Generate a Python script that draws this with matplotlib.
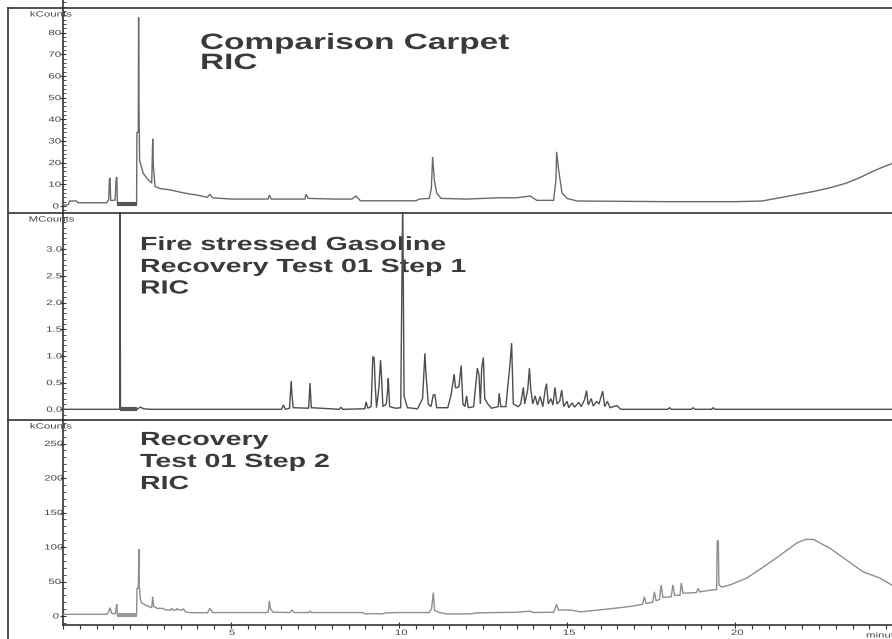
import matplotlib
matplotlib.use("Agg")
import matplotlib.pyplot as plt
from matplotlib.lines import Line2D
from matplotlib.patheffects import AbstractPathEffect
from matplotlib.transforms import Affine2D
from matplotlib.ticker import MultipleLocator

# ---------------- data ----------------
time_limits = [0.0, 24.67]

carpet_time = [0.0, 0.15, 0.2, 0.4, 0.45, 1.3, 1.36, 1.38, 1.40, 1.42, 1.55, 1.58, 1.60, 1.62,
               2.19, 2.20, 2.24, 2.25, 2.26, 2.28, 2.39, 2.54, 2.64, 2.67, 2.69, 2.74, 2.9, 3.2,
               3.6, 4.0, 4.3, 4.37, 4.45, 5.0, 6.1, 6.14, 6.2, 7.2, 7.23, 7.3, 8.1, 8.6, 8.72,
               8.85, 10.5, 10.6, 10.9, 10.96, 11.0, 11.05, 11.12, 11.25, 12.0, 13.0, 13.5, 13.9,
               14.1, 14.6, 14.67, 14.69, 14.75, 14.85, 15.0, 15.3, 18.0, 20.0, 20.8, 21.5, 22.3,
               22.8, 23.3, 23.7, 24.1, 24.4, 24.66]
carpet_kcounts = [0.5, 0.5, 2.3, 2.3, 1.5, 1.5, 3.0, 12.0, 13.0, 2.5, 2.7, 12.5, 13.4, 1.0,
                  1.0, 34.0, 34.0, 87.0, 47.5, 21.0, 15.0, 12.0, 10.6, 31.0, 18.0, 9.0, 8.0, 7.4,
                  6.0, 5.0, 4.0, 5.4, 3.8, 3.2, 3.2, 5.0, 3.2, 3.2, 5.4, 3.5, 3.2, 3.2, 4.6,
                  2.4, 2.4, 3.2, 3.5, 8.0, 22.6, 12.0, 6.0, 3.5, 3.2, 3.8, 3.8, 4.6,
                  2.6, 2.6, 12.0, 25.0, 16.6, 6.0, 3.5, 2.3, 2.0, 2.0, 2.3, 4.3, 6.6,
                  8.3, 10.5, 13.0, 16.0, 18.0, 19.5]

gasoline_time = [0.0, 1.69, 1.70, 1.71, 2.2, 2.3, 2.4, 2.6, 6.50, 6.56, 6.62, 6.74, 6.79, 6.81,
                 6.85, 7.31, 7.35, 7.39, 8.22, 8.27, 8.32, 8.98, 9.02, 9.07, 9.17, 9.22, 9.26,
                 9.29, 9.33, 9.40, 9.45, 9.48, 9.52, 9.62, 9.66, 9.68, 9.72, 9.9, 10.05, 10.11,
                 10.15, 10.25, 10.55, 10.70, 10.77, 10.80, 10.87, 10.95, 11.02, 11.07, 11.12,
                 11.45, 11.55, 11.64, 11.68, 11.78, 11.85, 11.9, 11.96, 12.01, 12.06, 12.22,
                 12.29, 12.33, 12.38, 12.42, 12.46, 12.51, 12.55, 12.64, 12.75, 12.95, 12.98,
                 13.03, 13.18, 13.25, 13.30, 13.35, 13.40, 13.55, 13.62, 13.70, 13.74, 13.83,
                 13.88, 13.92, 13.98, 14.05, 14.12, 14.20, 14.28, 14.35, 14.39, 14.44, 14.52,
                 14.58, 14.64, 14.70, 14.78, 14.84, 14.90, 15.0, 15.05, 15.15, 15.22, 15.35,
                 15.42, 15.52, 15.58, 15.63, 15.72, 15.78, 15.88, 15.95, 16.06, 16.12, 16.2,
                 16.28, 16.48, 16.6, 18.0, 18.05, 18.1, 18.7, 18.75, 18.8, 19.3, 19.35, 19.4,
                 24.67]
gasoline_mcounts = [0.0, 0.0, 4.0, 0.0, 0.0, 0.04, 0.01, 0.0, 0.0, 0.08, 0.0, 0.02, 0.53, 0.31,
                    0.03, 0.02, 0.49, 0.03, 0.0, 0.04, 0.0, 0.01, 0.14, 0.02, 0.05, 0.99, 0.96,
                    0.46, 0.03, 0.40, 0.92, 0.6, 0.05, 0.1, 0.36, 0.58, 0.05, 0.02, 0.03, 4.0,
                    0.25, 0.03, 0.01, 0.2, 1.05, 0.68, 0.1, 0.05, 0.27, 0.27, 0.03,
                    0.03, 0.27, 0.66, 0.4, 0.42, 0.82, 0.1, 0.05, 0.25, 0.03, 0.05,
                    0.5, 0.77, 0.64, 0.1, 0.77, 0.97, 0.2, 0.1, 0.02, 0.05, 0.3,
                    0.05, 0.05, 0.52, 0.83, 1.24, 0.1, 0.05, 0.1, 0.41, 0.1, 0.37,
                    0.77, 0.37, 0.1, 0.25, 0.08, 0.24, 0.05, 0.37, 0.48, 0.1, 0.2,
                    0.08, 0.41, 0.1, 0.15, 0.36, 0.05, 0.15, 0.03, 0.12, 0.04, 0.13,
                    0.05, 0.18, 0.35, 0.08, 0.2, 0.06, 0.15, 0.1, 0.34, 0.05, 0.15,
                    0.03, 0.07, 0.0, 0.0, 0.03, 0.0, 0.0, 0.03, 0.0, 0.0, 0.03, 0.0,
                    0.0]

recovery_time = [0.0, 1.3, 1.36, 1.40, 1.45, 1.55, 1.58, 1.60, 1.62, 2.19, 2.20, 2.24, 2.26,
                 2.27, 2.30, 2.34, 2.49, 2.64, 2.67, 2.70, 2.8, 2.98, 3.05, 3.2, 3.23, 3.28,
                 3.37, 3.40, 3.45, 3.55, 3.58, 3.65, 3.8, 4.3, 4.37, 4.45, 6.05, 6.11, 6.14,
                 6.17, 6.25, 6.75, 6.81, 6.88, 7.3, 7.35, 7.4, 8.9, 9.0, 9.2, 9.5, 9.6, 10.0,
                 10.9, 10.97, 11.02, 11.06, 11.2, 11.42, 12.11, 12.3, 13.5, 13.9, 14.0, 14.6,
                 14.69, 14.74, 15.1, 15.4, 16.38, 16.9, 17.25, 17.3, 17.35, 17.55, 17.6, 17.65,
                 17.75, 17.8, 17.85, 18.1, 18.15, 18.2, 18.36, 18.4, 18.45, 18.85, 18.9, 18.95,
                 19.35, 19.45, 19.47, 19.50, 19.52, 19.6, 19.85, 20.35, 20.84, 21.34, 21.84,
                 22.1, 22.33, 22.83, 23.32, 23.81, 24.31, 24.66]
recovery_kcounts = [2.4, 2.4, 6.0, 12.0, 4.0, 3.0, 10.0, 17.0, 1.0, 1.0, 40.0, 40.0, 97.0,
                    45.0, 25.0, 19.0, 15.0, 12.0, 28.0, 14.0, 11.0, 11.0, 8.7, 8.7, 11.0, 8.7,
                    8.7, 11.0, 8.7, 8.7, 10.5, 6.0, 4.8, 4.8, 11.0, 5.0, 5.0, 6.0, 22.0,
                    11.0, 5.5, 5.0, 8.7, 5.0, 5.0, 7.0, 5.0, 5.0, 3.0, 3.5, 3.0, 4.5, 5.0,
                    5.0, 11.0, 34.0, 8.0, 5.0, 3.0, 3.0, 4.5, 5.5, 7.0, 5.0, 5.5,
                    17.0, 8.7, 8.7, 6.0, 11.0, 14.0, 17.0, 28.0, 18.0, 20.0, 35.0, 22.0,
                    24.0, 45.0, 27.0, 28.0, 45.0, 30.0, 30.0, 48.0, 33.0, 34.0, 40.0, 35.0,
                    38.0, 38.0, 109.0, 109.0, 45.0, 42.0, 45.0, 55.0, 71.0, 88.0, 106.0,
                    111.0, 111.0, 98.0, 81.0, 64.0, 55.0, 45.0]

# solvent-delay bars (start, end, level)
carpet_delay = [1.62, 2.19, 0.8]
gasoline_delay = [1.71, 2.20, 0.0]
recovery_delay = [1.62, 2.19, 0.8]

carpet_ticks = [0, 10, 20, 30, 40, 50, 60, 70, 80]
gasoline_ticks = [0.0, 0.5, 1.0, 1.5, 2.0, 2.5, 3.0]
gasoline_tick_labels = ["0.0", "0.5", "1.0", "1.5", "2.0", "2.5", "3.0"]
recovery_ticks = [0, 50, 100, 150, 200, 250]
time_ticks = [5, 10, 15, 20]

carpet_title = ["Comparison Carpet", "RIC"]
gasoline_title = ["Fire stressed Gasoline", "Recovery Test 01 Step 1", "RIC"]
recovery_title = ["Recovery", "Test 01 Step 2", "RIC"]
unit_labels = ["kCounts", "MCounts", "kCounts"]
x_unit = "minutes"

# ---------------- drawing ----------------
W, H = 892, 639
fig = plt.figure(figsize=(W / 100, H / 100), dpi=100)
fig.patch.set_facecolor("white")
FONT = ["Liberation Sans", "DejaVu Sans"]


class Stretch(AbstractPathEffect):
    """Horizontally widen glyphs, as in the (stretched) reference scan."""
    def __init__(self, sx):
        super().__init__()
        self.sx = sx

    def draw_path(self, renderer, gc, tpath, affine, rgbFace=None):
        renderer.draw_path(gc, tpath, Affine2D().scale(self.sx, 1.0) + affine, rgbFace)


SX = 1.5


def fx(px):
    return px / W


def fy(py):
    return 1 - py / H


def make_axes(top, bottom):
    left, right = 63, W
    return fig.add_axes([fx(left), fy(bottom), fx(right) - fx(left), fy(top) - fy(bottom)])


ax1 = make_axes(0, 213)
ax2 = make_axes(213, 420)
ax3 = make_axes(420, 625)

# y-limits chosen so tick positions match the reference pixels
ax1.set_ylim(-(213 - 206) / 2.167, 206 / 2.167)
ax2.set_ylim(-(420 - 409.3) / 53.4, (409.3 - 213) / 53.4)
ax3.set_ylim(-(625 - 616) / 0.69, (616 - 420) / 0.69)

line_cols = ["#6a6a6a", "#4e4e4e", "#8e8e8e"]
bar_cols = ["#555555", "#555555", "#9a9a9a"]
series = [(ax1, carpet_time, carpet_kcounts, carpet_delay),
          (ax2, gasoline_time, gasoline_mcounts, gasoline_delay),
          (ax3, recovery_time, recovery_kcounts, recovery_delay)]

for i, (ax, t, v, d) in enumerate(series):
    ax.set_xlim(*time_limits)
    ax.set_facecolor("none")
    ax.plot(t, v, color=line_cols[i], lw=1.0, zorder=3, solid_joinstyle="miter")
    ax.hlines(d[2], d[0], d[1], color=bar_cols[i], lw=3.0, zorder=3)
    for s in ["top", "right"]:
        ax.spines[s].set_visible(False)
    ax.spines["left"].set_color("#333333")
    ax.spines["left"].set_linewidth(1.2)
    if ax is not ax3:
        ax.spines["bottom"].set_visible(False)
        ax.set_xticks([])
    ax.tick_params(axis="y", which="major", direction="inout", length=5, width=0.8,
                   color="#333333", pad=2, labelsize=5.5, labelcolor="#444444")
    ax.tick_params(axis="y", which="minor", direction="in", length=2.5, width=0.6,
                   color="#333333")

ax1.set_yticks(carpet_ticks)
l1 = ax1.set_yticklabels([str(v) for v in carpet_ticks], family=FONT)
ax1.yaxis.set_minor_locator(MultipleLocator(2))
ax2.set_yticks(gasoline_ticks)
l2 = ax2.set_yticklabels(gasoline_tick_labels, family=FONT)
ax2.yaxis.set_minor_locator(MultipleLocator(0.1))
ax3.set_yticks(recovery_ticks)
l3 = ax3.set_yticklabels([str(v) for v in recovery_ticks], family=FONT)
ax3.yaxis.set_minor_locator(MultipleLocator(10))

ax3.spines["bottom"].set_color("#333333")
ax3.spines["bottom"].set_linewidth(1.2)
ax3.set_xticks(time_ticks)
lx = ax3.set_xticklabels([str(v) for v in time_ticks], family=FONT)
ax3.xaxis.set_minor_locator(MultipleLocator(0.5))
ax3.tick_params(axis="x", which="major", direction="inout", length=5, width=0.8,
                color="#333333", pad=1, labelsize=5.5, labelcolor="#444444")
ax3.tick_params(axis="x", which="minor", direction="out", length=3, width=0.8,
                color="#333333")

for lbl in list(l1) + list(l2) + list(l3) + list(lx):
    lbl.set_path_effects([Stretch(SX)])

# outer frame and panel separators
frame = dict(color="#333333", lw=1.2, transform=fig.transFigure, zorder=5)
fig.add_artist(Line2D([fx(8), fx(W)], [fy(8), fy(8)], **frame))
fig.add_artist(Line2D([fx(8), fx(8)], [fy(8), fy(H)], **frame))
fig.add_artist(Line2D([fx(8), fx(W)], [fy(213), fy(213)], **frame))
fig.add_artist(Line2D([fx(8), fx(W)], [fy(420), fy(420)], **frame))

# unit labels
for ax, lab, y in [(ax1, unit_labels[0], 15), (ax2, unit_labels[1], 220), (ax3, unit_labels[2], 427)]:
    ax.text(fx(44), fy(y), lab, transform=fig.transFigure, ha="center", va="center",
            fontsize=5.5, color="#444444", family=FONT, clip_on=False,
            path_effects=[Stretch(SX)])
ax3.text(fx(866), fy(636), x_unit, transform=fig.transFigure, ha="left", va="center",
         fontsize=5.5, color="#444444", family=FONT, clip_on=False,
         path_effects=[Stretch(SX)])

# panel titles (drawn under the traces)
def title(ax, lines, x, baselines, size):
    for s, yb in zip(lines, baselines):
        ax.text(fx(x), fy(yb), s, transform=fig.transFigure, ha="left", va="baseline",
                fontsize=size, fontweight="bold", color="#3a3a3a", family=FONT,
                clip_on=False, zorder=1, path_effects=[Stretch(SX)])


title(ax1, carpet_title, 200, [49, 69], 16)
title(ax2, gasoline_title, 140, [250, 272, 293.5], 13.7)
title(ax3, recovery_title, 140, [445, 467, 489], 13.7)

fig.savefig("out.png", dpi=100, facecolor="white")
